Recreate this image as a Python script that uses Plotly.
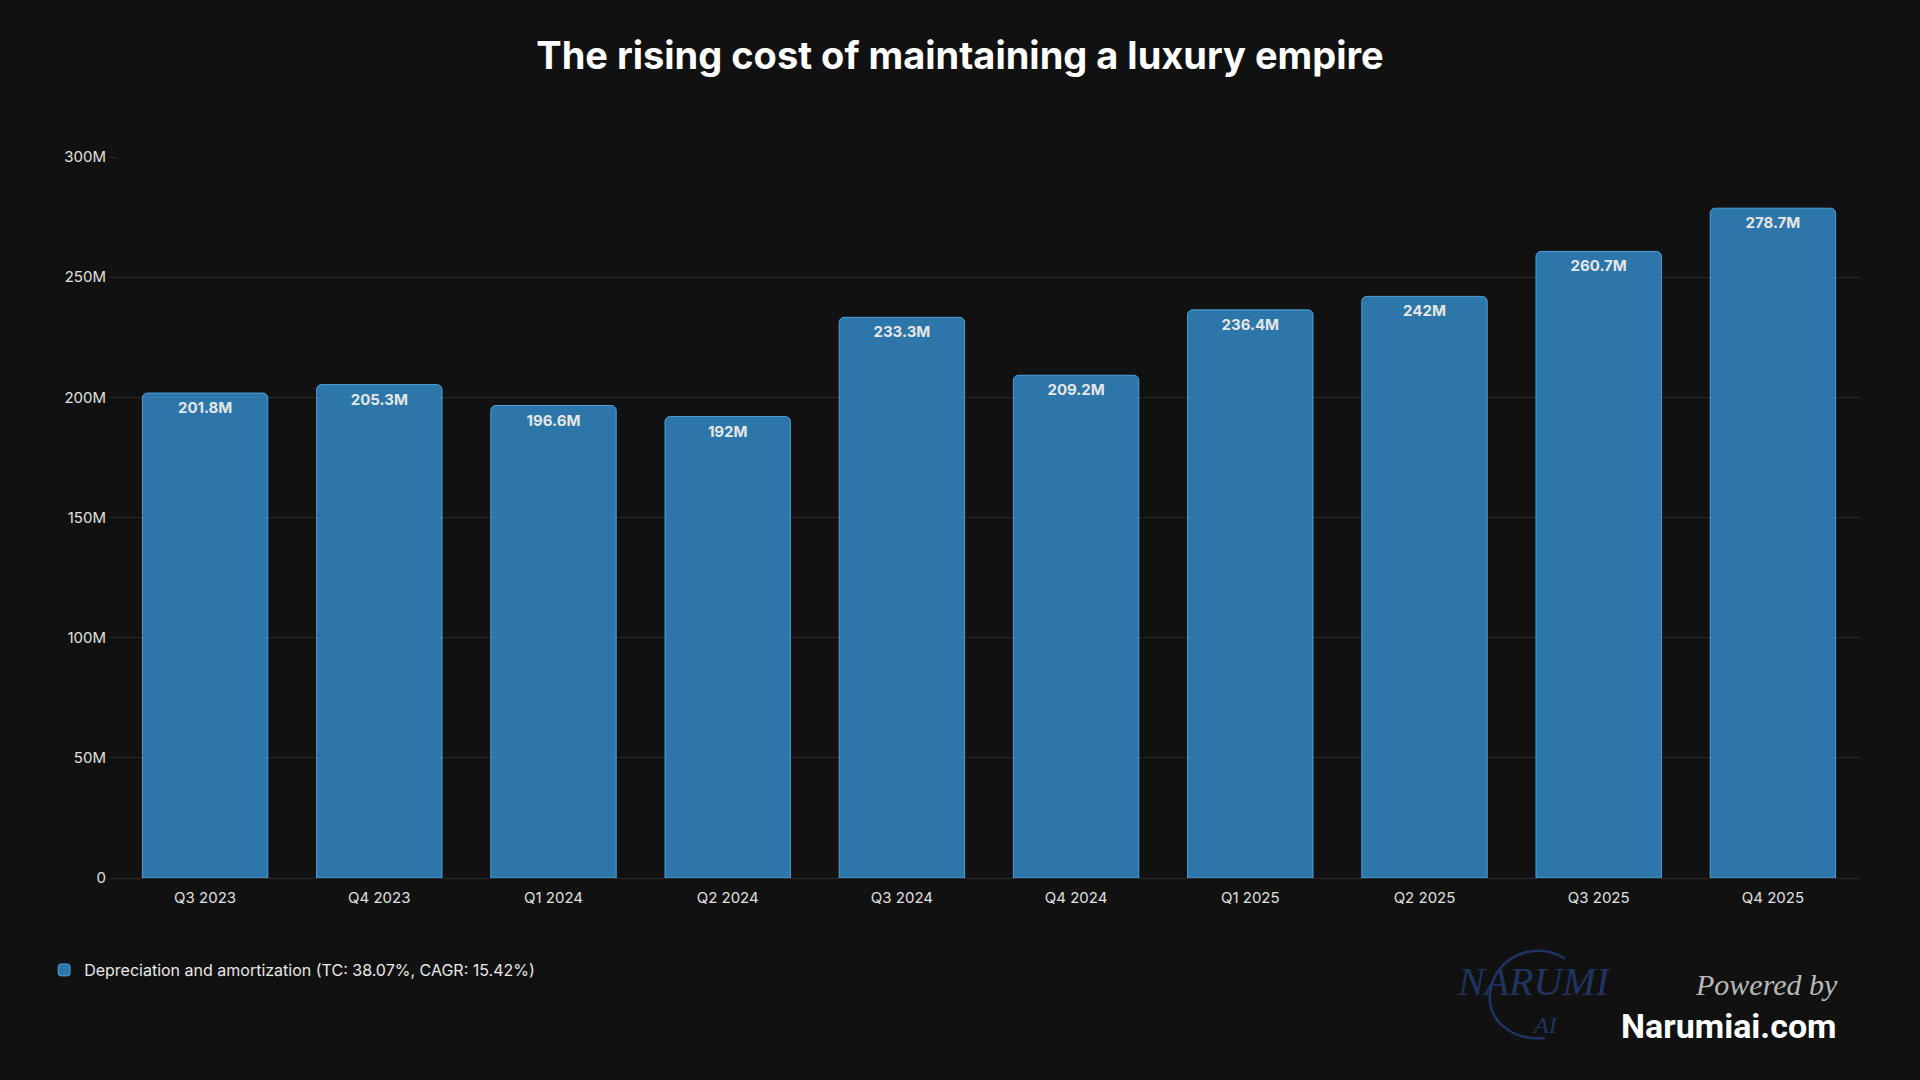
import plotly.graph_objects as go

categories = ["Q3 2023", "Q4 2023", "Q1 2024", "Q2 2024", "Q3 2024",
              "Q4 2024", "Q1 2025", "Q2 2025", "Q3 2025", "Q4 2025"]
values_m = [201.8, 205.3, 196.6, 192, 233.3, 209.2, 236.4, 242, 260.7, 278.7]
series_name = "Depreciation and amortization (TC: 38.07%, CAGR: 15.42%)"
tick_vals_m = [0, 50, 100, 150, 200, 250, 300]
tick_text = ["0", "50M", "100M", "150M", "200M", "250M", "300M"]
title_text = "The rising cost of maintaining a luxury empire"

W, H = 1920, 1080
L, R, T, B = 118, 60, 157, 202
PW, PH = W - L - R, H - T - B


def px(x):
    return (x - L) / PW


def py(y):
    return (H - B - y) / PH


fig = go.Figure()
fig.add_trace(go.Bar(
    x=categories,
    y=[v * 1e6 for v in values_m],
    name=series_name,
    text=[f"{v:g}M" for v in values_m],
    textposition="inside",
    insidetextanchor="end",
    textangle=0,
    textfont=dict(family="Inter, Roboto, sans-serif", size=15, color="#e6e6e6", weight="bold"),
    marker=dict(color="rgba(50,140,202,0.82)",
                line=dict(color="rgba(80,170,235,0.9)", width=1)),
    hoverinfo="x+y",
))

fig.update_layout(
    width=W, height=H,
    paper_bgcolor="#111111",
    plot_bgcolor="#111111",
    margin=dict(l=L, r=R, t=T, b=B, autoexpand=False),
    bargap=0.28,
    barcornerradius=5,
    title=dict(text=title_text, x=0.5, xanchor="center", y=1 - 56 / H, yanchor="middle",
               font=dict(family="Inter, Roboto, sans-serif", size=38, color="#ffffff", weight="bold")),
    font=dict(family="Inter, Roboto, sans-serif", color="#e0e0e0"),
    showlegend=True,
    legend=dict(orientation="h", xref="container", yref="container",
                x=0.023, y=1 - 970 / H, xanchor="left", yanchor="middle",
                font=dict(size=16, color="#e8e8e8"), bgcolor="rgba(0,0,0,0)",
                itemwidth=30),
    xaxis=dict(showgrid=False, tickfont=dict(size=15, color="#e0e0e0"),
               showline=True, linecolor="#2a2a2a", ticks="", ticklabelstandoff=6),
    yaxis=dict(range=[0, 300e6], tickvals=[v * 1e6 for v in tick_vals_m], ticktext=tick_text,
               showgrid=True, gridcolor="#2a2a2a", gridwidth=1, zeroline=False,
               ticks="outside", ticklen=8, tickcolor="#2a2a2a",
               tickfont=dict(size=15, color="#e0e0e0")),
)

# watermark: logo arc
cx, cy, r = 1535, 993, 45
path = (f"M {px(cx + 30)},{py(cy - 34)} "
        f"C {px(cx + 5)},{py(cy - 52)} {px(cx - 40)},{py(cy - 40)} {px(cx - 45)},{py(cy)} "
        f"C {px(cx - 48)},{py(cy + 30)} {px(cx - 20)},{py(cy + 48)} {px(cx + 10)},{py(cy + 45)}")
fig.add_shape(type="path", xref="paper", yref="paper", path=path,
              line=dict(color="#1f3460", width=2.5))
fig.add_annotation(xref="paper", yref="paper", x=px(1534), y=py(981), text="<i>NARUMI</i>",
                   showarrow=False, xanchor="center", yanchor="middle",
                   font=dict(family="Liberation Serif, DejaVu Serif, serif", size=40, color="#1f3460"))
fig.add_annotation(xref="paper", yref="paper", x=px(1545), y=py(1025), text="<i>AI</i>",
                   showarrow=False, xanchor="center", yanchor="middle",
                   font=dict(family="Liberation Serif, DejaVu Serif, serif", size=24, color="#1f3460"))
fig.add_annotation(xref="paper", yref="paper", x=px(1840), y=py(984), text="<i>Powered by</i>",
                   showarrow=False, xanchor="right", yanchor="middle",
                   font=dict(family="Liberation Serif, DejaVu Serif, serif", size=30, color="#b8b8b8"))
fig.add_annotation(xref="paper", yref="paper", x=px(1839), y=py(1026), text="<b>Narumiai.com</b>",
                   showarrow=False, xanchor="right", yanchor="middle",
                   font=dict(family="Roboto, Inter, sans-serif", size=34, color="#ffffff"))

fig.write_html("out.html")
